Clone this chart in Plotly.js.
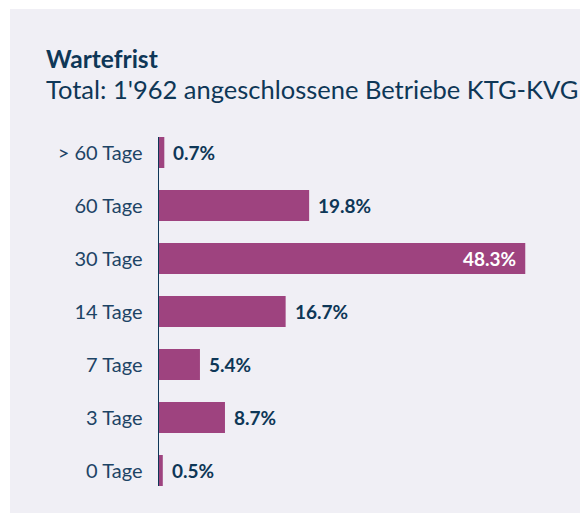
<!DOCTYPE html>
<html><head><meta charset="utf-8">
<script src="https://cdn.plot.ly/plotly-3.0.1.min.js"></script>
<style>
html,body{margin:0;padding:0;background:#ffffff;}
#chart{position:absolute;left:10px;top:9px;width:570px;height:504px;}
</style></head>
<body><div id="chart"></div>
<script>
const categories = ["> 60 Tage","60 Tage","30 Tage","14 Tage","7 Tage","3 Tage","0 Tage"];
const values = [0.7, 19.8, 48.3, 16.7, 5.4, 8.7, 0.5];
const labels = ["0.7%","19.8%","48.3%","16.7%","5.4%","8.7%","0.5%"];
const insideIndex = 2;

const barColor = '#9e437f';
const navy = '#0e3757';
const font = 'Lato, "Open Sans", sans-serif';

const annotations = categories.map((c, i) => {
  const inside = i === insideIndex;
  return {
    x: values[i], y: c, xref: 'x', yref: 'y',
    text: '<b>' + labels[i] + '</b>', showarrow: false,
    xanchor: inside ? 'right' : 'left',
    xshift: inside ? -7 : 7,
    font: {family: font, size: 19, color: inside ? '#ffffff' : navy}
  };
});
annotations.push({
  xref: 'paper', yref: 'paper', x: -0.2798, y: 1, xanchor: 'left', yanchor: 'bottom',
  yshift: 62, showarrow: false, text: '<b>Wartefrist</b>', align: 'left',
  font: {family: font, size: 24.5, color: navy}
});
annotations.push({
  xref: 'paper', yref: 'paper', x: -0.2798, y: 1, xanchor: 'left', yanchor: 'bottom',
  yshift: 31, showarrow: false, text: "Total: 1'962 angeschlossene Betriebe KTG-KVG", align: 'left',
  font: {family: font, size: 25.5, color: navy}
});

Plotly.newPlot('chart', [{
  type: 'bar', orientation: 'h', x: values, y: categories,
  marker: {color: barColor}, width: 0.585, hoverinfo: 'none'
}], {
  width: 570, height: 504,
  paper_bgcolor: '#f0eff5', plot_bgcolor: 'rgba(0,0,0,0)',
  margin: {l: 149, r: 10, t: 128, b: 27},
  showlegend: false,
  xaxis: {range: [0, 54.2], visible: false, fixedrange: true},
  yaxis: {type: 'category', range: [6.2925, -0.2925], showline: true, linecolor: navy, linewidth: 1.5,
          showgrid: false, zeroline: false, ticks: 'outside', ticklen: 11, tickcolor: 'rgba(0,0,0,0)',
          tickfont: {family: font, size: 20, color: '#1d4465'}},
  annotations: annotations
}, {displayModeBar: false, staticPlot: true});
</script></body></html>
